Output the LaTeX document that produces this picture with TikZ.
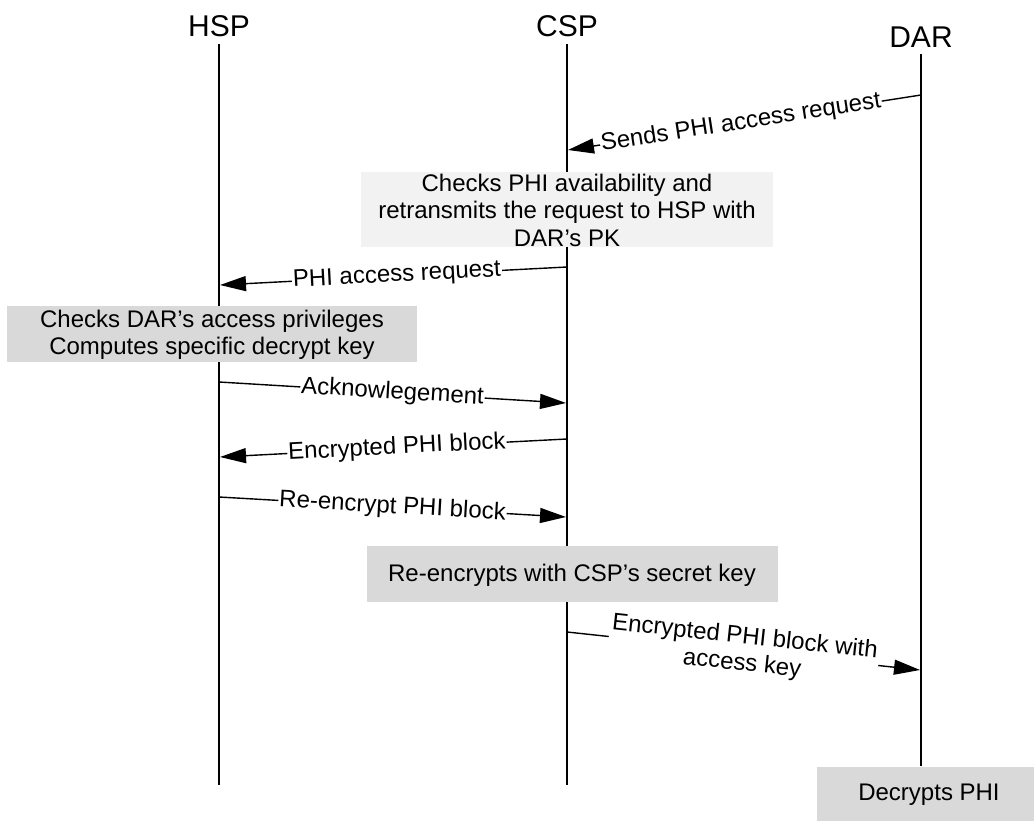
\documentclass[tikz,border=0pt]{standalone}
\usepackage{fontspec}
\setmainfont{Liberation Sans}
\usetikzlibrary{arrows.meta}
\definecolor{boxlight}{HTML}{F2F2F2}
\definecolor{boxgray}{HTML}{D9D9D9}
\begin{document}
\begin{tikzpicture}[x=1pt,y=-1pt,
  life/.style={line width=2.6pt},
  msg/.style={line width=1.4pt,-{Triangle[length=26pt,width=15pt]}},
  lbl/.style={font=\fontsize{24}{27}\selectfont, fill=white, inner sep=1pt, sloped, align=center},
  actor/.style={font=\fontsize{30}{34}\selectfont, inner sep=0pt, anchor=base},
  stepbox/.style={font=\fontsize{24}{27.5}\selectfont, align=center, inner sep=0pt}
]
\useasboundingbox (0,0) rectangle (1034,821);
% actors
\node[actor] (hsp) at (219,37) {HSP};
\node[actor] (csp) at (567,37) {CSP};
\node[actor] (dar) at (921,48) {DAR};
% lifelines
\coordinate (hspT) at (219,44);
\coordinate (hspB) at (219,785);
\coordinate (cspT) at (567,44);
\coordinate (cspB) at (567,785);
\coordinate (darT) at (921,54);
\coordinate (darB) at (921,766);
\draw[life] (hspT) -- (hspB);
\draw[life] (cspT) -- (cspB);
\draw[life] (darT) -- (darB);
% boxes
\fill[boxlight] (361,172) rectangle (773,247);
\node[stepbox] (b1) at (567,210) {Checks PHI availability and\\retransmits the request to HSP with\\DAR’s PK};
\fill[boxgray] (7,306) rectangle (417,362);
\node[stepbox] (b2) at (212,335) {Checks DAR’s access privileges\\Computes specific decrypt key};
\fill[boxgray] (367,546) rectangle (778,602);
\node[stepbox] (b3) at (572,575) {Re-encrypts with CSP’s secret key};
\fill[boxgray] (817,767) rectangle (1034,821);
\node[stepbox] (b4) at (929,795) {Decrypts PHI};
% message endpoints
\coordinate (m1s) at (921,95);
\coordinate (m1e) at (568,150);
\coordinate (m2s) at (567,267);
\coordinate (m2e) at (220,285);
\coordinate (m3s) at (219,382);
\coordinate (m3e) at (566,403);
\coordinate (m4s) at (567,439);
\coordinate (m4e) at (220,457);
\coordinate (m5s) at (219,497);
\coordinate (m5e) at (566,517);
\coordinate (m6s) at (567,632);
\coordinate (m6e) at (920,670);
% messages
\draw[msg] (m1s) -- node[lbl, pos=0.51] (l1) {Sends PHI access request} (m1e);
\draw[msg] (m2s) -- node[lbl, pos=0.49] (l2) {PHI access request} (m2e);
\draw[msg] (m3s) -- node[lbl, pos=0.5] (l3) {Acknowlegement} (m3e);
\draw[msg] (m4s) -- node[lbl, pos=0.49] (l4) {Encrypted PHI block} (m4e);
\draw[msg] (m5s) -- node[lbl, pos=0.5] (l5) {Re-encrypt PHI block} (m5e);
\draw[msg] (m6s) -- node[lbl, pos=0.5, inner sep=2pt] (l6) {Encrypted PHI block with\\access key} (m6e);
\end{tikzpicture}
\end{document}
